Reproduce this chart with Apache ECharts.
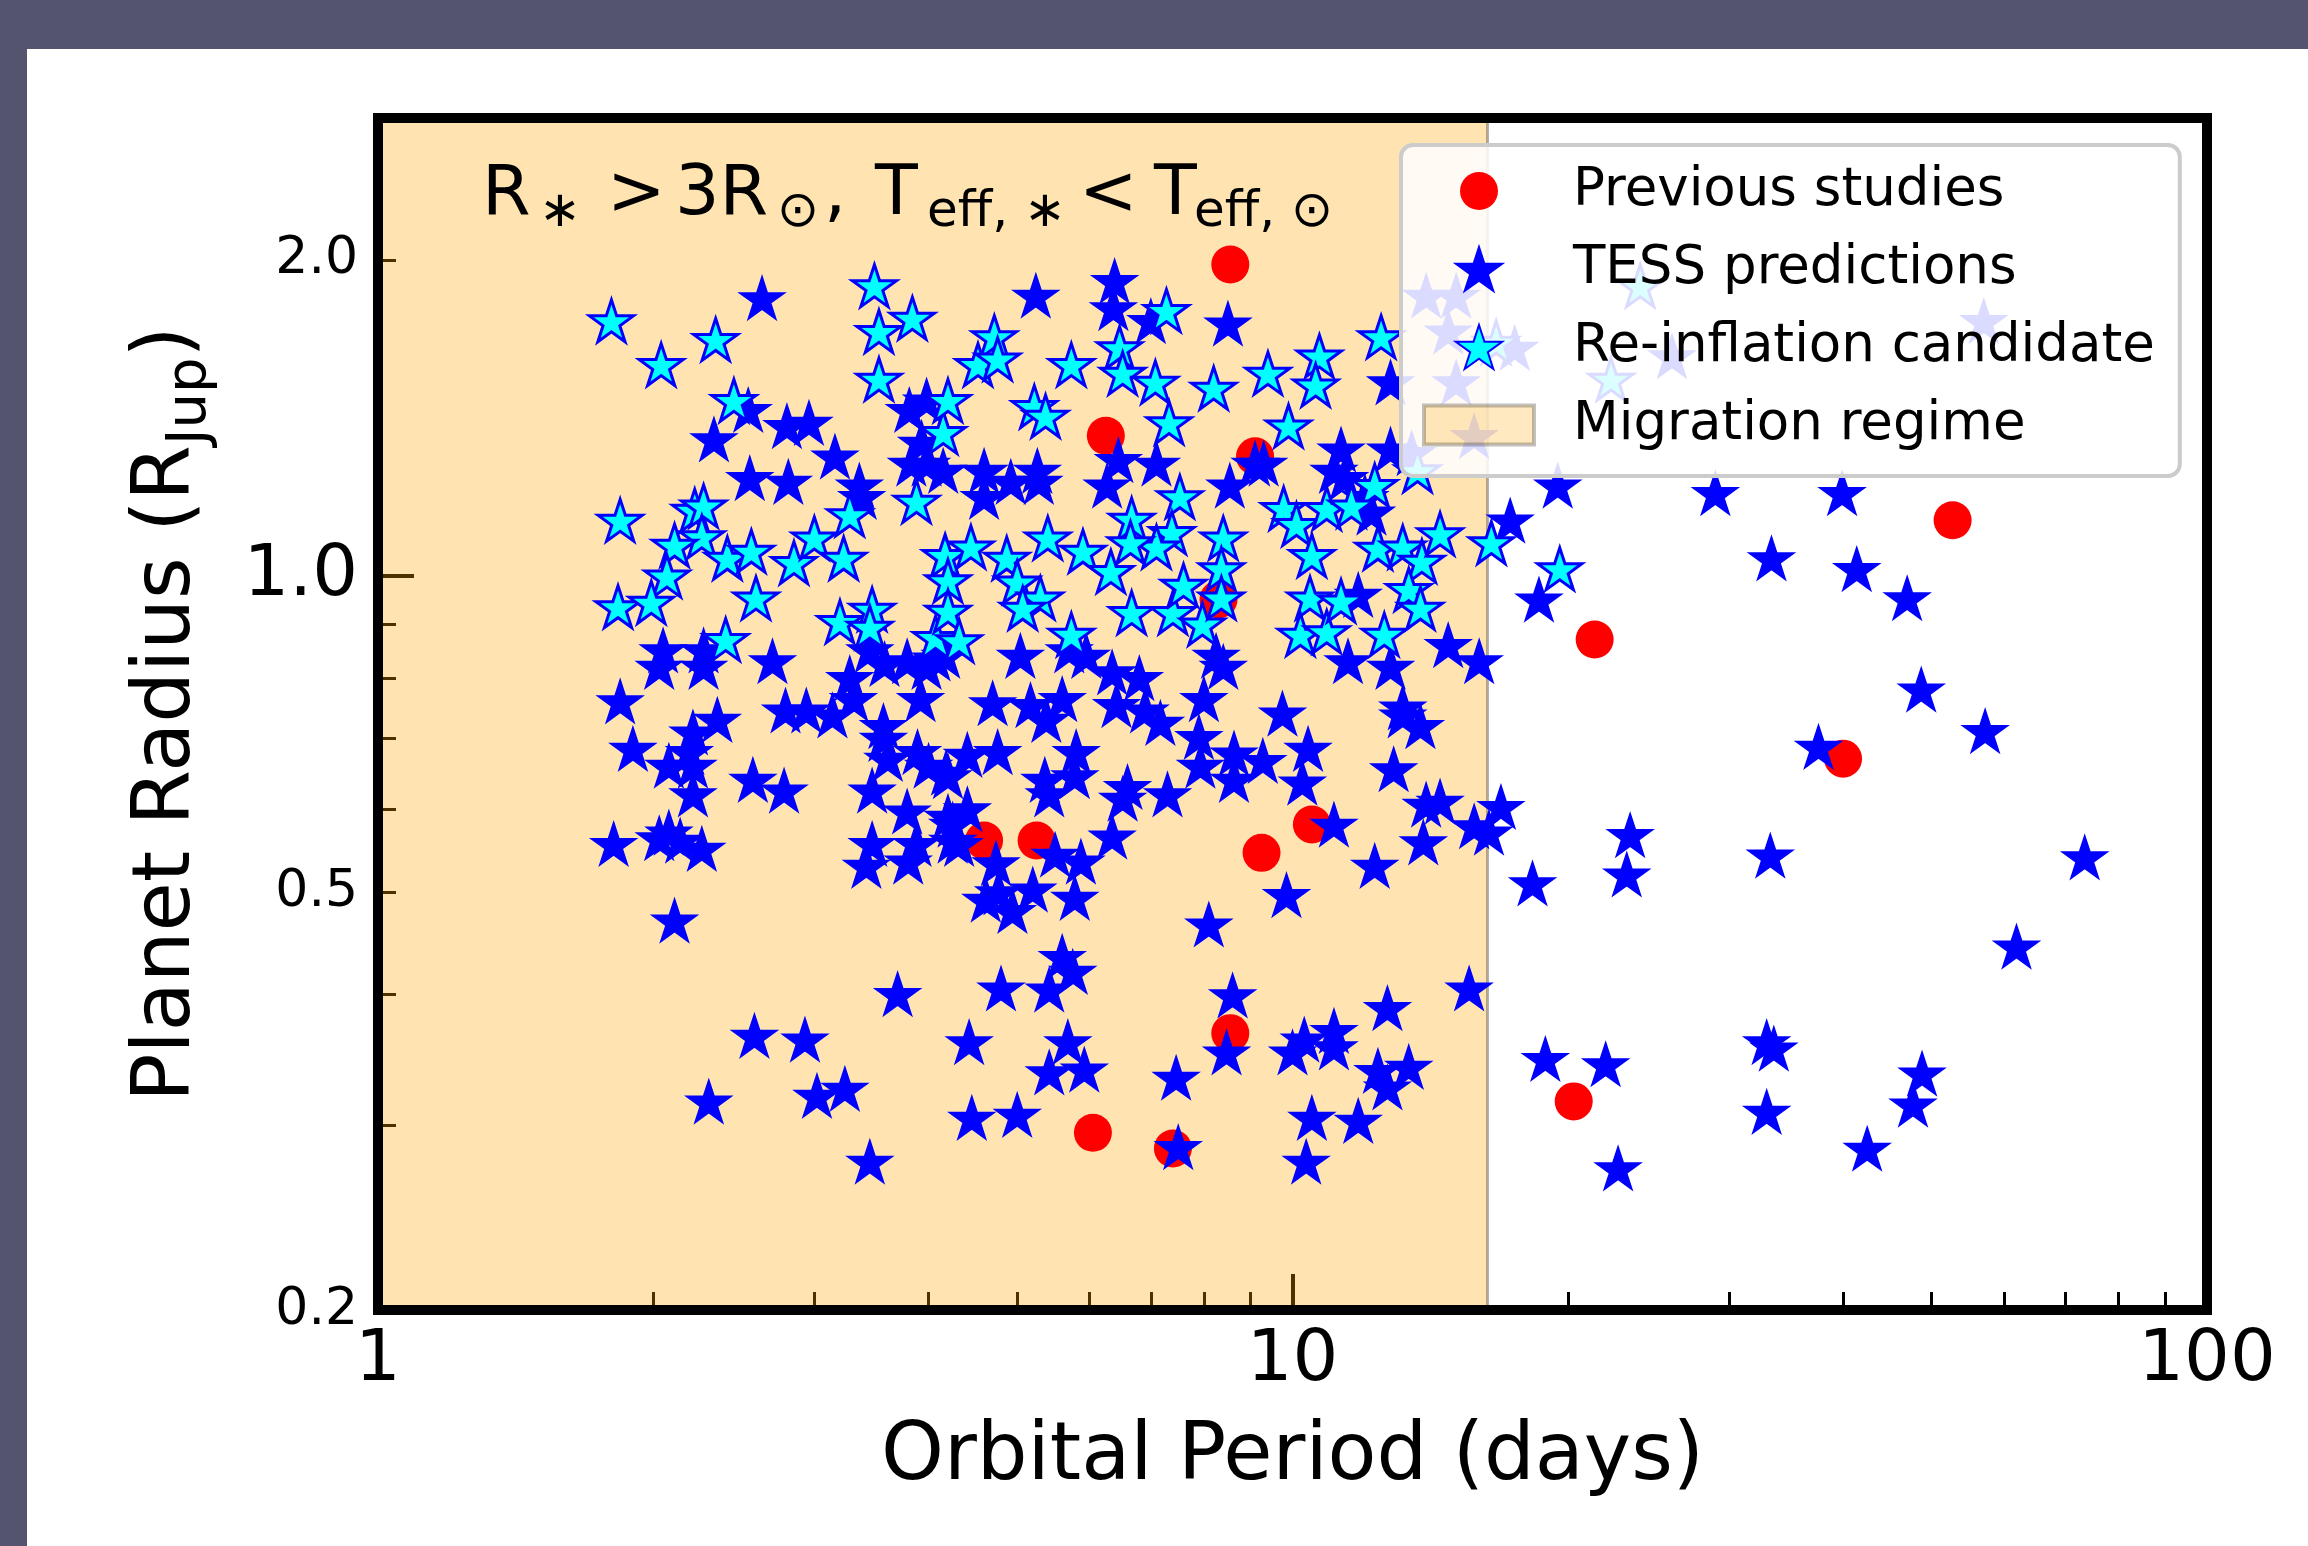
<!DOCTYPE html>
<html>
<head>
<meta charset="utf-8">
<script src="https://cdn.jsdelivr.net/npm/echarts@6/dist/echarts.min.js"></script>
<style>
  html, body { margin: 0; padding: 0; background: #ffffff; }
  #chart { width: 2308px; height: 1546px; }
</style>
</head>
<body>
<div id="chart"></div>
<script>
// [orbital period (days), planet radius (R_Jup)]
const previousStudies = [
  [8.55, 1.98], [6.25, 1.36], [9.1, 1.30], [52.7, 1.13], [21.4, 0.87], [8.3, 0.95], [40, 0.67],
  [4.6, 0.56], [5.25, 0.56], [9.25, 0.545], [10.5, 0.58], [8.55, 0.367], [6.05, 0.295], [7.4, 0.285],
  [20.3, 0.316]
];

const tessPredictions = [
  [2.63, 1.84], [2.54, 1.44], [2.33, 1.35], [2.8, 1.39], [2.96, 1.40], [3.16, 1.30], [2.55, 1.24], [2.81, 1.23], [3.36, 1.22], [3.38, 1.19],
  [3.81, 1.44], [3.98, 1.47], [3.83, 1.28], [3.98, 1.28], [4.15, 1.26], [3.93, 1.34], [2.05, 0.85], [2.27, 0.85], [2.27, 0.82], [2.03, 0.82],
  [2.7, 0.83], [3.45, 0.85], [3.58, 0.825], [3.79, 0.83], [3.98, 0.82], [3.28, 0.80], [4.07, 0.835], [4.17, 0.84],
  [5.24, 1.85], [6.39, 1.91], [6.37, 1.80], [7.0, 1.75], [8.5, 1.74], [4.6, 1.26], [4.6, 1.19], [4.92, 1.23], [5.28, 1.23], [5.26, 1.26],
  [6.45, 1.29], [6.27, 1.22], [7.1, 1.28], [8.54, 1.22], [9.1, 1.28], [9.3, 1.28], [11.1, 1.26], [8.25, 0.84], [8.4, 0.82], [6.35, 0.81],
  [6.8, 0.80], [5.95, 0.84], [5.7, 0.85], [5.04, 0.84],
  [12.8, 1.53], [11.3, 1.32], [12.8, 1.32], [12.0, 1.19], [12.2, 1.15], [17.3, 1.13], [18.6, 0.95], [11.8, 0.96], [14.8, 0.86], [16.0, 0.83],
  [11.5, 0.83], [12.8, 0.82], [13.2, 0.75],
  [14.0, 1.85], [15.1, 1.85], [14.8, 1.71], [15.1, 1.53], [15.8, 1.36], [26.0, 1.62], [57, 1.75], [17.5, 1.65], [13.5, 1.31],
  [1.84, 0.76], [2.35, 0.73], [1.9, 0.685], [2.21, 0.71], [2.19, 0.68], [2.08, 0.66], [2.21, 0.66], [2.21, 0.62], [2.57, 0.64], [2.78, 0.625],
  [1.81, 0.556], [2.03, 0.563], [2.08, 0.57], [2.14, 0.56], [2.26, 0.55], [2.11, 0.47], [2.79, 0.745], [2.94, 0.745], [3.14, 0.737], [3.31, 0.764],
  [3.57, 0.72], [3.57, 0.70], [3.92, 0.764], [3.89, 0.68], [4.0, 0.66], [4.18, 0.65], [3.61, 0.67], [3.47, 0.625], [3.79, 0.597], [4.2, 0.59],
  [4.25, 0.56], [3.88, 0.556], [3.47, 0.556], [3.42, 0.53], [3.8, 0.535], [3.7, 0.40], [2.58, 0.365], [2.93, 0.362], [3.02, 0.32], [3.24, 0.325],
  [2.3, 0.316], [3.45, 0.277],
  [4.7, 0.757], [5.17, 0.754], [5.38, 0.73], [5.6, 0.764], [6.42, 0.754], [6.9, 0.745], [7.17, 0.725], [8.0, 0.764], [9.75, 0.74], [4.76, 0.68],
  [4.41, 0.676], [4.2, 0.645], [4.41, 0.60], [4.25, 0.58], [4.32, 0.556], [5.36, 0.64], [5.8, 0.68], [5.78, 0.645], [5.42, 0.62], [6.6, 0.63],
  [6.52, 0.614], [7.3, 0.62], [7.9, 0.703], [7.93, 0.66], [8.63, 0.678], [8.63, 0.64], [9.28, 0.667], [10.4, 0.685], [10.25, 0.636], [6.35, 0.565],
  [5.5, 0.543], [5.87, 0.535], [4.74, 0.533], [4.77, 0.50], [4.94, 0.48], [5.2, 0.503], [5.78, 0.494], [4.62, 0.492], [9.85, 0.497], [8.1, 0.466],
  [5.6, 0.434], [5.75, 0.42], [5.42, 0.404], [4.8, 0.405], [8.6, 0.399], [4.43, 0.36], [5.68, 0.36], [5.42, 0.337], [5.92, 0.339], [7.46, 0.333],
  [8.47, 0.352], [10.0, 0.352], [10.3, 0.362], [11.1, 0.369], [4.46, 0.305], [5.0, 0.307], [7.5, 0.286], [10.5, 0.305], [10.35, 0.277],
  [19.5, 1.22], [29.0, 1.20], [39.9, 1.20], [33.4, 1.04], [41.4, 1.016], [47, 0.953], [48.7, 0.78], [57.2, 0.712], [37.6, 0.688], [23.4, 0.567],
  [23.2, 0.52], [18.3, 0.51], [33.3, 0.542], [73.5, 0.54], [61.9, 0.444], [18.9, 0.347], [22.0, 0.343], [33.0, 0.36], [33.6, 0.355], [48.8, 0.336],
  [47.7, 0.314], [33.0, 0.309], [42.5, 0.285], [22.7, 0.273], [15.6, 0.405], [12.7, 0.388], [11.1, 0.356], [12.4, 0.338], [13.4, 0.341], [12.7, 0.326],
  [11.8, 0.303], [11.1, 0.58], [12.3, 0.53], [13.9, 0.558], [14.0, 0.606], [14.5, 0.61], [12.9, 0.655], [13.2, 0.737], [13.8, 0.72], [16.9, 0.603],
  [16.4, 0.57], [15.8, 0.578], [11.4, 1.24]
];

const reinflationCandidates = [
  [1.8, 1.75], [2.04, 1.59], [2.34, 1.68], [3.49, 1.89], [3.53, 1.71], [3.84, 1.76], [3.53, 1.54], [2.45, 1.47], [1.84, 1.13], [2.22, 1.155],
  [2.27, 1.166], [2.26, 1.09], [2.11, 1.07], [2.07, 1.0], [2.41, 1.04], [2.56, 1.056], [1.83, 0.935], [1.99, 0.944], [2.59, 0.953], [2.85, 1.03],
  [3.0, 1.087], [3.23, 1.04], [3.28, 1.144], [3.88, 1.178], [4.15, 1.37], [4.2, 1.47], [3.2, 0.905], [3.47, 0.93], [3.45, 0.894], [2.4, 0.87],
  [4.07, 0.874], [4.17, 1.046], [4.2, 0.99],
  [7.28, 1.79], [4.72, 1.69], [4.53, 1.59], [4.76, 1.61], [5.73, 1.59], [6.47, 1.65], [6.52, 1.56], [7.08, 1.53], [8.2, 1.51], [9.4, 1.56],
  [10.7, 1.62], [10.6, 1.52], [9.9, 1.39], [7.33, 1.40], [5.22, 1.45], [5.37, 1.42], [7.53, 1.19], [6.67, 1.133], [7.38, 1.10], [7.1, 1.066],
  [6.65, 1.076], [5.4, 1.087], [5.9, 1.056], [6.33, 1.01], [4.45, 1.066], [4.87, 1.04], [5.0, 0.987], [5.3, 0.953], [5.07, 0.932], [4.2, 0.926],
  [4.32, 0.868], [5.73, 0.88], [6.67, 0.923], [7.4, 0.923], [7.97, 0.90], [8.4, 1.087], [8.36, 1.016], [8.36, 0.953], [7.6, 0.98], [9.78, 1.16],
  [10.1, 1.12], [10.5, 1.046], [10.45, 0.953], [10.2, 0.88], [10.9, 1.16], [10.9, 0.885],
  [12.5, 1.69], [12.3, 1.22], [11.6, 1.166], [12.4, 1.063], [13.2, 1.066], [13.85, 1.033], [14.5, 1.097], [16.5, 1.076], [13.4, 0.971], [13.8, 0.932],
  [11.3, 0.947], [12.6, 0.88], [13.7, 1.26], [24.0, 1.89], [22.3, 1.54], [16.7, 1.67], [19.6, 1.016]
];

// shaded migration regime: periods from 1 day up to this limit
const migrationLimit = 16.34;

const periodRange = [1, 100];
const radiusRange = [0.2, 2.73];
const periodMajorTicks = [1, 10, 100];
const periodMinorTicks = [2, 3, 4, 5, 6, 7, 8, 9, 20, 30, 40, 50, 60, 70, 80, 90];
const radiusMajorTicks = [1.0];
const radiusMinorTicks = [0.3, 0.4, 0.5, 0.6, 0.7, 0.8, 0.9, 2.0];
const radiusMinorLabels = [0.2, 0.5, 2.0];

const FONT = 'DejaVu Sans';
const STAR = 'path://M0,-100L22.45,-30.9L95.11,-30.9L36.33,11.8L58.78,80.9L0,38.2L-58.78,80.9L-36.33,11.8L-95.11,-30.9L-22.45,-30.9Z';
// circle icon with empty margins so it sits smaller than the legend row height
const DOT_ICON = 'path://M-22,-22L-22,-22M22,22L22,22M19,0A19,19,0,1,1,-19,0A19,19,0,1,1,19,0Z';
const PATCH_ICON = 'path://M0,0H110V39H0Z';

const regionFill = 'rgba(255,165,0,0.3)';
const regionEdge = 'rgba(0,0,0,0.3)';

function periodAxis(ticks, tickLen, tickWidth, withLabels) {
  return {
    type: 'log', logBase: 10, min: periodRange[0], max: periodRange[1],
    gridIndex: 0, position: 'bottom',
    axisLine: { show: false, onZero: false },
    splitLine: { show: false },
    axisTick: { show: true, inside: true, length: tickLen, customValues: ticks,
      lineStyle: { color: '#000', width: tickWidth } },
    axisLabel: withLabels ? {
      show: true, customValues: ticks, fontSize: 72, lineHeight: 72, color: '#000',
      fontFamily: FONT, margin: 15, formatter: v => String(Math.round(v))
    } : { show: false }
  };
}

function radiusAxis(ticks, labels, tickLen, tickWidth, labelSize) {
  return {
    type: 'log', logBase: 10, min: radiusRange[0], max: radiusRange[1],
    gridIndex: 0, position: 'left',
    axisLine: { show: false, onZero: false },
    splitLine: { show: false },
    axisTick: { show: true, inside: true, length: tickLen, customValues: ticks,
      lineStyle: { color: '#000', width: tickWidth } },
    axisLabel: {
      show: true, customValues: labels, fontSize: labelSize, color: '#000',
      fontFamily: FONT, margin: 20, formatter: v => Number(v).toFixed(1)
    }
  };
}

const xMajor = periodAxis(periodMajorTicks, 36, 4, true);
Object.assign(xMajor, {
  name: 'Orbital Period (days)', nameLocation: 'middle', nameGap: 108,
  nameTextStyle: { fontSize: 80, color: '#000', fontFamily: FONT }
});
const xMinor = periodAxis(periodMinorTicks, 18, 3, false);

const yMajor = radiusAxis(radiusMajorTicks, radiusMajorTicks, 36, 4, 72);
Object.assign(yMajor, {
  name: '{a|Planet Radius (R}{b|Jup}{a|)}', nameLocation: 'middle', nameGap: 160, nameRotate: 90,
  nameTextStyle: {
    color: '#000', fontFamily: FONT,
    rich: {
      a: { fontSize: 80, lineHeight: 100, fontFamily: FONT, color: '#000' },
      b: { fontSize: 56, lineHeight: 49, verticalAlign: 'bottom', fontFamily: FONT, color: '#000' }
    }
  }
});
const yMinor = radiusAxis(radiusMinorTicks, radiusMinorLabels, 18, 3, 52);

// condition annotation, laid out as math-style text with subscripts
const mainStyle = w => ({ fontSize: 70, lineHeight: 84, fontFamily: FONT, color: '#000', width: w });
const subStyle = w => ({ fontSize: 50, lineHeight: 44, verticalAlign: 'bottom', fontFamily: FONT, color: '#000', width: w });
const conditionText = {
  type: 'text', x: 482, y: 154, z: 20,
  style: {
    text: '{a1|R}{a2|∗}{a3|>}{a4|3R}{a6|⊙}{a7|,}{a8|T}{a9|eff, ∗}{a10|<}{a11|T}{a12|eff, ⊙}',
    align: 'left', verticalAlign: 'top',
    rich: {
      a1: mainStyle(57), a2: subStyle(68), a3: mainStyle(68), a4: mainStyle(102),
      a6: subStyle(47), a7: mainStyle(51), a8: mainStyle(52), a9: subStyle(152), a10: mainStyle(75),
      a11: mainStyle(40), a12: subStyle(150)
    }
  }
};

const chart = echarts.init(document.getElementById('chart'), null, { renderer: 'canvas', width: 2308, height: 1546 });

chart.setOption({
  backgroundColor: '#ffffff',
  animation: false,
  textStyle: { fontFamily: FONT },
  grid: {
    left: 378, right: 101, top: 118, bottom: 236,
    show: true, z: 10, borderWidth: 10, borderColor: '#000000', backgroundColor: 'transparent',
    outerBoundsMode: 'none'
  },
  xAxis: [xMajor, xMinor],
  yAxis: [yMajor, yMinor],
  legend: {
    orient: 'vertical', left: 1401, top: 145,
    padding: [16, 25, 21, 21],
    itemWidth: 110, itemHeight: 44, itemGap: 18,
    backgroundColor: 'rgba(255,255,255,0.86)',
    borderColor: '#cccccc', borderWidth: 4, borderRadius: 12,
    textStyle: { fontSize: 53, lineHeight: 60, color: '#000', fontFamily: FONT, padding: [0, 0, 0, 34] },
    selectedMode: false,
    z: 30,
    data: [
      { name: 'Previous studies', icon: DOT_ICON },
      { name: 'TESS predictions' },
      { name: 'Re-inflation candidate' },
      { name: 'Migration regime', icon: PATCH_ICON,
        itemStyle: { color: regionFill, borderColor: regionEdge, borderWidth: 4 } }
    ]
  },
  graphic: [
    { type: 'rect', shape: { x: 0, y: 0, width: 2308, height: 49 }, style: { fill: '#54546e' }, z: 0 },
    { type: 'rect', shape: { x: 0, y: 0, width: 27, height: 1546 }, style: { fill: '#54546e' }, z: 0 },
    { type: 'text', x: 876, y: 1, z: 1,
      style: { text: 'g', fill: '#ffffff', fontSize: 80, fontFamily: FONT, verticalAlign: 'bottom', align: 'left' } },
    conditionText
  ],
  series: [
    {
      name: 'Migration regime', type: 'scatter', xAxisIndex: 0, yAxisIndex: 0, z: 1,
      data: [],
      itemStyle: { color: regionFill, borderColor: regionEdge, borderWidth: 4 },
      markArea: {
        silent: true,
        itemStyle: { color: regionFill, borderColor: regionEdge, borderWidth: 3 },
        label: { show: false },
        data: [[{ xAxis: periodRange[0] }, { xAxis: migrationLimit }]]
      }
    },
    {
      name: 'Previous studies', type: 'scatter', xAxisIndex: 0, yAxisIndex: 0, z: 2,
      symbol: 'circle', symbolSize: 38,
      itemStyle: { color: '#ff0000', opacity: 1 },
      data: previousStudies
    },
    {
      name: 'TESS predictions', type: 'scatter', xAxisIndex: 0, yAxisIndex: 0, z: 3,
      symbol: STAR, symbolKeepAspect: true, symbolSize: 45,
      itemStyle: { color: '#0000ff', borderColor: '#0000ff', borderWidth: 1.5, opacity: 1 },
      data: tessPredictions
    },
    {
      name: 'Re-inflation candidate', type: 'scatter', xAxisIndex: 0, yAxisIndex: 0, z: 4,
      symbol: STAR, symbolKeepAspect: true, symbolSize: 44,
      itemStyle: { color: '#00ffff', borderColor: '#0000ff', borderWidth: 3, opacity: 1 },
      data: reinflationCandidates
    }
  ]
});
</script>
</body>
</html>
